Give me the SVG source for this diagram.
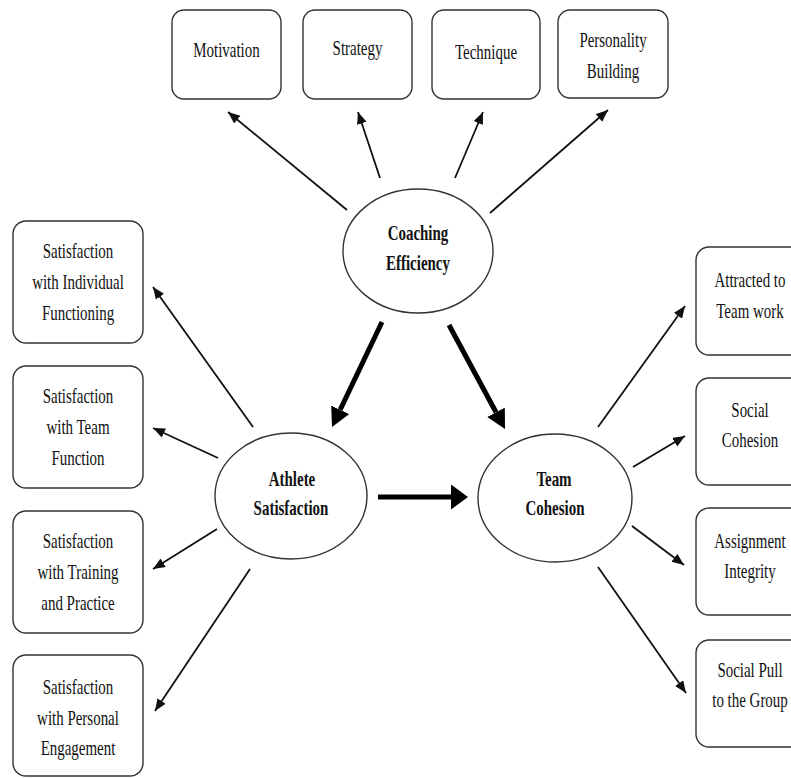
<svg xmlns="http://www.w3.org/2000/svg" width="791" height="778" viewBox="0 0 791 778">
<defs>
<style>
.box{fill:#fff;stroke:#333;stroke-width:1.4}
.ell{fill:#fff;stroke:#333;stroke-width:1.4}
.t{font-family:"Liberation Serif","Times New Roman",serif;font-size:22px;fill:#111;text-anchor:middle}
.b{font-weight:bold}
.thin{stroke:#111;stroke-width:1.8;fill:none;marker-end:url(#ah)}
.thick{stroke:#000;stroke-width:5;fill:none}
</style>
<marker id="ah" markerUnits="userSpaceOnUse" markerWidth="13" markerHeight="11" refX="12" refY="5" orient="auto"><path d="M0,0 L12,5 L0,10 z" fill="#111"/></marker>
<marker id="ahd" markerUnits="userSpaceOnUse" markerWidth="20" markerHeight="21" refX="0" refY="10" orient="auto"><path d="M0,0 L19,10 L0,20 z" fill="#000"/></marker>
<marker id="ahh" markerUnits="userSpaceOnUse" markerWidth="18" markerHeight="26" refX="0" refY="12.5" orient="auto"><path d="M0,0 L17,12.5 L0,25 z" fill="#000"/></marker>
</defs>
<rect width="791" height="778" fill="#fff"/>
<g id="connectors">
<path class="thin" d="M347,210 L228,112"/>
<path class="thin" d="M380,178 L358,112"/>
<path class="thin" d="M455,178 L483,112"/>
<path class="thin" d="M490,213 L608,110"/>
<path class="thin" d="M253,427 L153,287"/>
<path class="thin" d="M218,458 L153,428"/>
<path class="thin" d="M217,529 L153,569"/>
<path class="thin" d="M250,569 L155,711"/>
<path class="thin" d="M598,427 L685,306"/>
<path class="thin" d="M633,467 L685,436"/>
<path class="thin" d="M632,526 L684,565"/>
<path class="thin" d="M598,567 L686,693"/>
<path class="thick" d="M382,322 L340.2,409.8" marker-end="url(#ahd)"/>
<path class="thick" d="M449,325 L496,412.3" marker-end="url(#ahd)"/>
<path class="thick" d="M378,497 L451,497" marker-end="url(#ahh)"/>
</g>
<g id="motivation"><rect class="box" x="172" y="10" width="109" height="89" rx="12"/><text class="t" transform="translate(226.5,57) scale(0.68 1)">Motivation</text></g>
<g id="strategy"><rect class="box" x="303" y="10" width="109" height="89" rx="12"/><text class="t" transform="translate(357.5,55) scale(0.68 1)">Strategy</text></g>
<g id="technique"><rect class="box" x="432" y="10" width="108" height="89" rx="12"/><text class="t" transform="translate(486,59) scale(0.68 1)">Technique</text></g>
<g id="personality"><rect class="box" x="558" y="10" width="110" height="88" rx="12"/><text class="t" transform="translate(613,47) scale(0.68 1)">Personality</text><text class="t" transform="translate(613,78) scale(0.68 1)">Building</text></g>
<g id="coaching"><ellipse class="ell" cx="418" cy="251" rx="75" ry="62"/><text class="t b" transform="translate(418,240) scale(0.68 1)">Coaching</text><text class="t b" transform="translate(418,270) scale(0.68 1)">Efficiency</text></g>
<g id="athlete"><ellipse class="ell" cx="291" cy="496" rx="76" ry="63"/><text class="t b" transform="translate(292,486) scale(0.68 1)">Athlete</text><text class="t b" transform="translate(291,515) scale(0.68 1)">Satisfaction</text></g>
<g id="team"><ellipse class="ell" cx="555" cy="498" rx="77" ry="64"/><text class="t b" transform="translate(554,486) scale(0.68 1)">Team</text><text class="t b" transform="translate(555,515) scale(0.68 1)">Cohesion</text></g>
<g id="s-individual"><rect class="box" x="13" y="221" width="130" height="122" rx="13"/><text class="t" transform="translate(78,258) scale(0.68 1)">Satisfaction</text><text class="t" transform="translate(78,289) scale(0.68 1)">with Individual</text><text class="t" transform="translate(78,320) scale(0.68 1)">Functioning</text></g>
<g id="s-team"><rect class="box" x="13" y="366" width="130" height="122" rx="13"/><text class="t" transform="translate(78,403) scale(0.68 1)">Satisfaction</text><text class="t" transform="translate(78,434) scale(0.68 1)">with Team</text><text class="t" transform="translate(78,465) scale(0.68 1)">Function</text></g>
<g id="s-training"><rect class="box" x="13" y="511" width="130" height="122" rx="13"/><text class="t" transform="translate(78,548) scale(0.68 1)">Satisfaction</text><text class="t" transform="translate(78,579) scale(0.68 1)">with Training</text><text class="t" transform="translate(78,610) scale(0.68 1)">and Practice</text></g>
<g id="s-personal"><rect class="box" x="13" y="655" width="130" height="121" rx="13"/><text class="t" transform="translate(78,694) scale(0.68 1)">Satisfaction</text><text class="t" transform="translate(78,725) scale(0.68 1)">with Personal</text><text class="t" transform="translate(78,755) scale(0.68 1)">Engagement</text></g>
<g id="attracted"><rect class="box" x="696" y="247" width="110" height="108" rx="13"/><text class="t" transform="translate(750,287) scale(0.68 1)">Attracted to</text><text class="t" transform="translate(750,318) scale(0.68 1)">Team work</text></g>
<g id="social-cohesion"><rect class="box" x="696" y="378" width="110" height="107" rx="13"/><text class="t" transform="translate(750,417) scale(0.68 1)">Social</text><text class="t" transform="translate(750,447) scale(0.68 1)">Cohesion</text></g>
<g id="assignment"><rect class="box" x="696" y="508" width="110" height="107" rx="13"/><text class="t" transform="translate(750,548) scale(0.68 1)">Assignment</text><text class="t" transform="translate(750,578) scale(0.68 1)">Integrity</text></g>
<g id="social-pull"><rect class="box" x="696" y="640" width="110" height="107" rx="13"/><text class="t" transform="translate(750,677) scale(0.68 1)">Social Pull</text><text class="t" transform="translate(750,707) scale(0.68 1)">to the Group</text></g>
</svg>
